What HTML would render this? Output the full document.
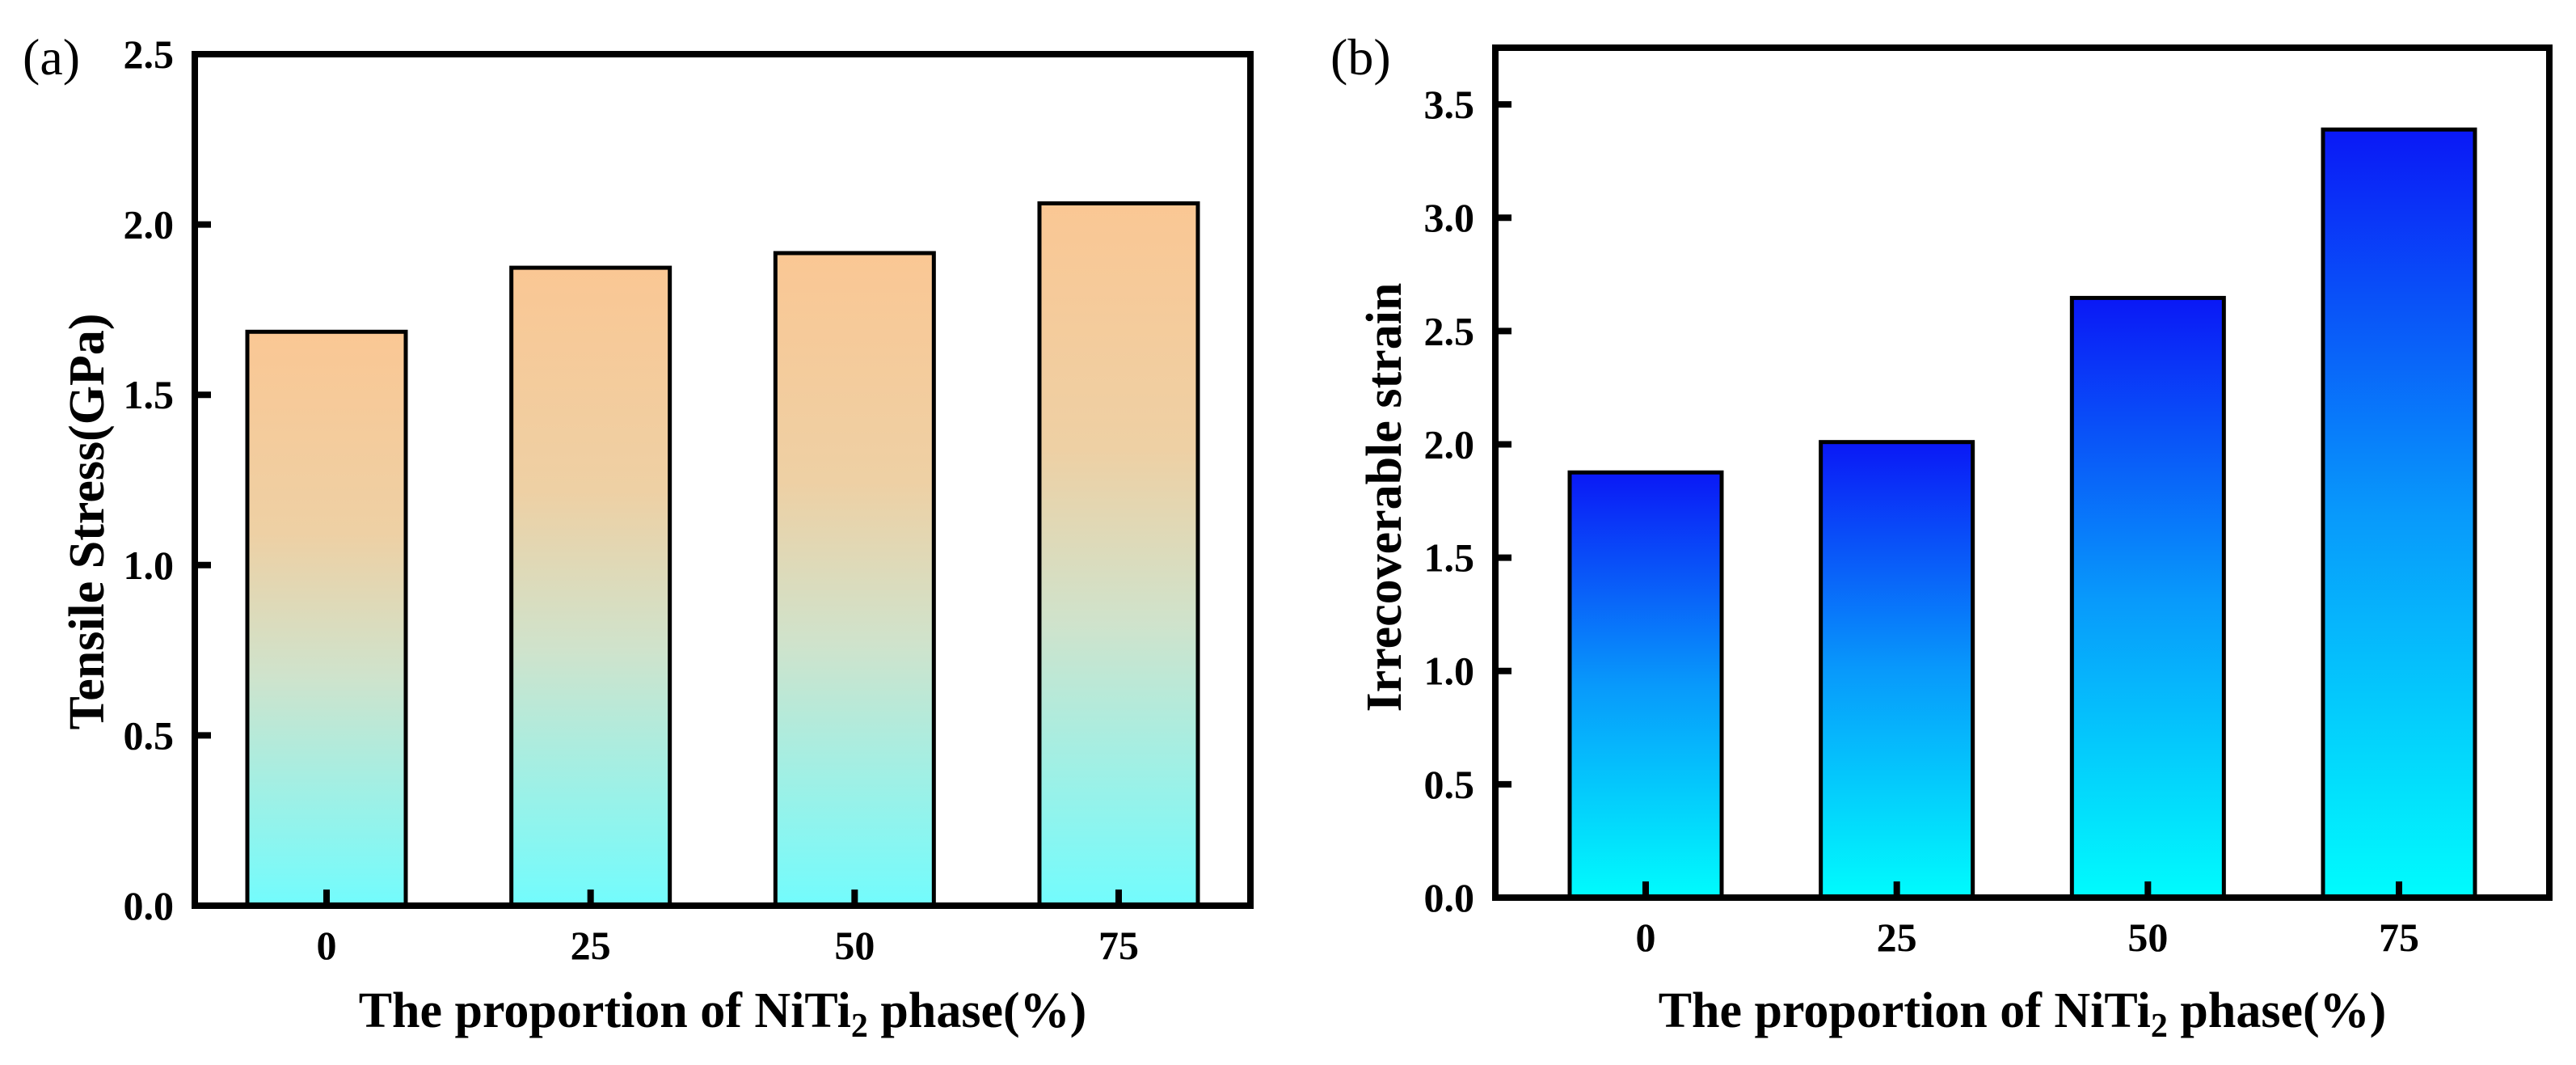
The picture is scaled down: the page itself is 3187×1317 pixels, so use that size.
<!DOCTYPE html>
<html><head><meta charset="utf-8"><style>
html,body{margin:0;padding:0;background:#fff;}
svg{display:block;}
text{font-family:"Liberation Serif",serif;}
</style></head><body>
<svg id="fig" width="3187" height="1317" viewBox="0 0 3187 1317" xmlns="http://www.w3.org/2000/svg">
<defs>
<linearGradient id="gA" x1="0" y1="0" x2="0" y2="1">
<stop offset="0" stop-color="#fac794"/><stop offset="0.35" stop-color="#eed0a4"/><stop offset="0.6" stop-color="#cfe3cc"/><stop offset="1" stop-color="#72fcfd"/>
</linearGradient>
<linearGradient id="gB" x1="0" y1="0" x2="0" y2="1">
<stop offset="0" stop-color="#0a18f6"/><stop offset="0.5" stop-color="#0899fb"/><stop offset="1" stop-color="#00fcfd"/>
</linearGradient>
</defs>
<g id="chartA"></g>
<g id="chartB"></g>
</svg>
<script>
const categories = ["0","25","50","75"];
const tensileStress = [1.685, 1.873, 1.916, 2.062];
const irrecoverableStrain = [1.876, 2.01, 2.646, 3.389];
const ticksA = [0.0, 0.5, 1.0, 1.5, 2.0, 2.5];
const tickLabelsA = ["0.0","0.5","1.0","1.5","2.0","2.5"];
const ticksB = [0.0, 0.5, 1.0, 1.5, 2.0, 2.5, 3.0, 3.5];
const tickLabelsB = ["0.0","0.5","1.0","1.5","2.0","2.5","3.0","3.5"];

const NS = "http://www.w3.org/2000/svg";
function mk(tag, attrs, parent){
  const e = document.createElementNS(NS, tag);
  for (const k in attrs) e.setAttribute(k, attrs[k]);
  parent.appendChild(e);
  return e;
}

function drawChart(g, cfg){
  const {L,R,T,B,ymax,values,ticks,tickLabels,grad,pad,barW,panel,ytitle,ytitleX,ytitleY} = cfg;
  const yScale = v => B - (v/ymax)*(B-T);
  const n = categories.length;
  const step = (R-L-2*pad)/(n-1);
  const xScale = i => L + pad + i*step;
  values.forEach((v,i)=>{
    const r = mk('rect',{x:xScale(i)-barW/2,y:yScale(v),width:barW,height:B-yScale(v),fill:'url(#'+grad+')',stroke:'#000','stroke-width':5},g);
    
    
  });
  const f = mk('rect',{x:L,y:T,width:R-L,height:B-T,fill:'none',stroke:'#000','stroke-width':8},g);
  
  
  ticks.forEach((t,i)=>{
    const y = yScale(t);
    const tk = mk('line',{x1:L,x2:L+20,y1:y,y2:y,stroke:'#000','stroke-width':8},g);
    
    
    const tl = mk('text',{x:L-26,y:y+17,'text-anchor':'end','font-size':50,'font-weight':'bold'},g);
    tl.textContent = tickLabels[i];
    
    
  });
  categories.forEach((c,i)=>{
    const x = xScale(i);
    const tk = mk('line',{x1:x,x2:x,y1:B,y2:B-20,stroke:'#000','stroke-width':8},g);
    
    
    const tl = mk('text',{x:x,y:B+66,'text-anchor':'middle','font-size':50,'font-weight':'bold'},g);
    tl.textContent = c;
    
    
  });
  const xt = mk('text',{x:(L+R)/2,y:1270,'text-anchor':'middle','font-size':62,'font-weight':'bold'},g);
  xt.innerHTML = 'The proportion of NiTi<tspan font-size="42" dy="12">2</tspan><tspan dy="-12"> phase(%)</tspan>';
  
  
  const yt = mk('text',{x:ytitleX,y:ytitleY,'text-anchor':'middle','font-size':62,'font-weight':'bold',transform:'rotate(-90 '+ytitleX+' '+ytitleY+')'},g);
  yt.textContent = ytitle;
  
  
  const pl = mk('text',{x:panel.x,y:panel.y,'font-size':64},g);
  pl.textContent = panel.t;
  
  
}

drawChart(document.getElementById('chartA'),{
  L:241,R:1547,T:67,B:1120,ymax:2.5,values:tensileStress,ticks:ticksA,tickLabels:tickLabelsA,
  grad:'gA',pad:163,barW:196,panel:{x:28,y:92,t:'(a)'},ytitle:'Tensile Stress(GPa)',ytitleX:128,ytitleY:645
});
drawChart(document.getElementById('chartB'),{
  L:1850,R:3154,T:59,B:1110,ymax:3.75,values:irrecoverableStrain,ticks:ticksB,tickLabels:tickLabelsB,
  grad:'gB',pad:186,barW:188,panel:{x:1646,y:92,t:'(b)'},ytitle:'Irrecoverable strain',ytitleX:1733,ytitleY:615
});
</script>
</body></html>
